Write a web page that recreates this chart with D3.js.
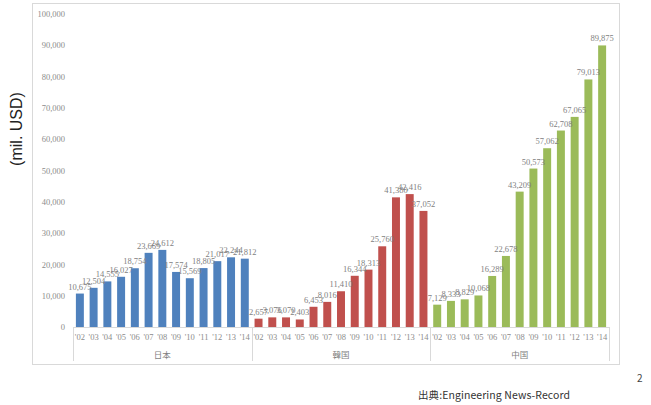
<!DOCTYPE html>
<html><head><meta charset="utf-8">
<script src="https://cdn.jsdelivr.net/npm/d3@7"></script>
<style>body{margin:0;background:#fff}svg{display:block}</style>
</head><body>
<svg id="c" width="651" height="405"></svg>
<script>
const years = ["'02","'03","'04","'05","'06","'07","'08","'09","'10","'11","'12","'13","'14"];
const countries = ["日本","韓国","中国"];
const japan = [10675,12504,14555,16027,18754,23669,24612,17574,15569,18805,21017,22244,21812];
const korea = [2657,3076,3070,2403,6453,8016,11410,16344,18313,25760,41380,42416,37052];
const china = [7129,8333,8829,10068,16289,22678,43209,50573,57062,62708,67065,79013,89875];
const colors = ["#4F81BD","#C0504D","#9BBB59"];
const yTicks = [0,10000,20000,30000,40000,50000,60000,70000,80000,90000,100000];

(function(){
const series = [japan, korea, china];
const rows = [];
countries.forEach((c,ci)=>years.forEach((y,yi)=>rows.push({key:c+y,country:c,ci,year:y,value:series[ci][yi]})));

const svg = d3.select("#c");
const pL=73, pR=609, pT=13.7, pB=327;
const serif = "Liberation Serif, DejaVu Serif, serif";

svg.append("rect").attr("x",32.5).attr("y",3.5).attr("width",587).attr("height",361)
  .attr("fill","none").attr("stroke","#d9d9d9");

const x = d3.scaleBand().domain(rows.map(d=>d.key)).range([pL,pR]).paddingInner(0.42).paddingOuter(0.21);
const xg = d3.scaleBand().domain(countries).range([pL,pR]);
const y = d3.scaleLinear().domain([0,100000]).range([pB,pT]);

const fmt = d3.format(",");
const ya = svg.append("g").attr("transform",`translate(${pL},0)`)
  .call(d3.axisLeft(y).tickValues(yTicks).tickFormat(fmt).tickSize(0).tickPadding(8));
ya.select(".domain").remove();
ya.selectAll("text").attr("fill","#8c8c8c").attr("font-family",serif).attr("font-size",8.5);

svg.append("g").selectAll("rect").data(rows).join("rect")
  .attr("x",d=>x(d.key)).attr("width",x.bandwidth())
  .attr("y",d=>y(d.value)).attr("height",d=>y(0)-y(d.value))
  .attr("fill",d=>colors[d.ci]);

svg.append("g").selectAll("text").data(rows).join("text")
  .attr("x",d=>x(d.key)+x.bandwidth()/2).attr("y",d=>y(d.value)-4)
  .attr("text-anchor","middle").attr("font-family",serif).attr("font-size",8.5)
  .attr("fill","#7f7f7f").text(d=>fmt(d.value));

svg.append("line").attr("x1",pL).attr("x2",pR).attr("y1",pB+0.5).attr("y2",pB+0.5).attr("stroke","#d9d9d9");
const xa = svg.append("g").attr("transform",`translate(0,${pB})`)
  .call(d3.axisBottom(x).tickFormat(k=>k.slice(2)).tickSize(0).tickPadding(7));
xa.select(".domain").remove();
xa.selectAll("text").attr("fill","#8c8c8c").attr("font-family",serif).attr("font-size",8.5);

const seps = countries.map(c=>xg(c)).concat([pR]);
svg.append("g").selectAll("line").data(seps).join("line")
  .attr("x1",d=>Math.round(d)+0.5).attr("x2",d=>Math.round(d)+0.5)
  .attr("y1",pB).attr("y2",361).attr("stroke","#d9d9d9");

svg.append("g").selectAll("text").data(countries).join("text")
  .attr("x",d=>xg(d)+xg.bandwidth()/2).attr("y",358)
  .attr("text-anchor","middle").attr("font-family","Noto Sans CJK JP, sans-serif").attr("font-size",8.5)
  .attr("fill","#7f7f7f").text(d=>d);

svg.append("text").attr("transform","translate(22,129) rotate(-90)")
  .attr("text-anchor","middle").attr("font-family","Liberation Sans, Arial, sans-serif").attr("font-size",16)
  .attr("fill","#222").text("(mil. USD)");

svg.append("text").attr("x",418).attr("y",399).attr("font-family","Noto Sans CJK JP, sans-serif")
  .attr("font-size",10.5).attr("fill","#333").attr("textLength",152).text("出典:Engineering News-Record");
svg.append("text").attr("x",637).attr("y",382).attr("font-family","Noto Sans CJK JP, sans-serif")
  .attr("font-size",10).attr("fill","#444").text("2");
})();
</script>
</body></html>
